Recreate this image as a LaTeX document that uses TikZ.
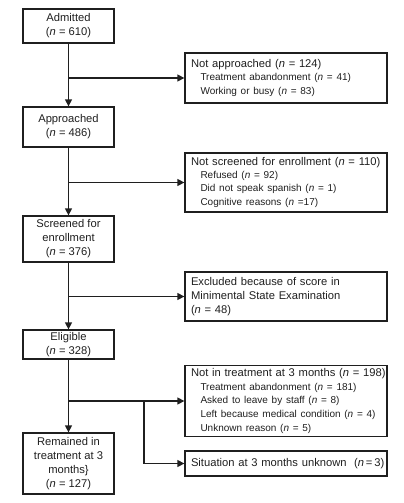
\documentclass[tikz,border=0pt]{standalone}
\usepackage{fontspec}
\setmainfont{Liberation Sans}
\usetikzlibrary{arrows.meta}
\newcommand\mainf{\fontsize{11.2}{14}\selectfont}
\newcommand\subf{\fontsize{10}{13.4}\selectfont}
\newcommand\sub{\hspace*{9.5pt}}
\begin{document}
\begin{tikzpicture}[x=1pt,y=-1pt,
  every node/.style={text=black!88},
  lbox/.style={draw=black!88, line width=1.3pt, inner sep=0pt, minimum width=91pt, align=center, font=\mainf},
  rbox/.style={draw=black!88, line width=1.3pt, inner xsep=6pt, inner ysep=0pt, minimum width=202pt, text width=190pt, align=left, font=\mainf},
  conn/.style={draw=black!88, line width=1.4pt, -{Triangle[length=7pt,width=7pt]}},
]
\useasboundingbox (0,0) rectangle (404,503);
% left column
\node[lbox, minimum height=34pt] (admitted) at (68.5,26) {Admitted\\(\textit{n} = 610)};
\node[lbox, minimum height=40pt] (approached) at (68.5,127) {Approached\\(\textit{n} = 486)};
\node[lbox, minimum height=46pt] (screened) at (68.5,239) {Screened for\\enrollment\\(\textit{n} = 376)};
\node[lbox, minimum height=29pt] (eligible) at (68.5,344.5) {Eligible\\(\textit{n} = 328)};
\node[lbox, minimum height=61pt] (remained) at (68.5,463.5) {Remained in\\treatment at 3\\months\}\\(\textit{n} = 127)};
% right column
\node[rbox, minimum height=50pt] (notappr) at (286,78) {Not approached (\textit{n} = 124)\\
  \subf\sub Treatment abandonment (\textit{n} = 41)\\
  \sub Working or busy (\textit{n} = 83)};
\node[rbox, minimum height=59pt] (notscr) at (286,182.5) {\mbox{Not screened for enrollment (\textit{n} = 110)}\\
  \subf\sub Refused (\textit{n} = 92)\\
  \sub Did not speak spanish (\textit{n} = 1)\\
  \sub Cognitive reasons (\textit{n} =17)};
\node[rbox, minimum height=49pt] (excl) at (286,296.5) {Excluded because of score in\\Minimental State Examination\\(\textit{n} = 48)};
\node[rbox, minimum height=71pt] (notint) at (286,401) {\mbox{Not in treatment at 3 months (\textit{n} = 198)}\\
  \subf\sub Treatment abandonment (\textit{n} = 181)\\
  \sub Asked to leave by staff (\textit{n} = 8)\\
  \sub Left because medical condition (\textit{n} = 4)\\
  \sub Unknown reason (\textit{n} = 5)};
\node[rbox, minimum height=25pt] (situ) at (286,463.5) {\mbox{Situation at 3 months unknown\ \ (\textit{n}\,=\,3)}};
\coordinate (sp) at (144,0);
% connectors
\draw[conn] (admitted) -- (approached);
\draw[conn] (approached) -- (screened);
\draw[conn] (screened) -- (eligible);
\draw[conn] (eligible) -- (remained);
\draw[conn] (admitted.south |- notappr.west) -- (notappr.west);
\draw[conn] (approached.south |- notscr.west) -- (notscr.west);
\draw[conn] (screened.south |- excl.west) -- (excl.west);
\draw[conn] (eligible.south |- notint.west) -- (notint.west);
\draw[conn] (sp |- notint.west) |- (situ.west);
\end{tikzpicture}
\end{document}
